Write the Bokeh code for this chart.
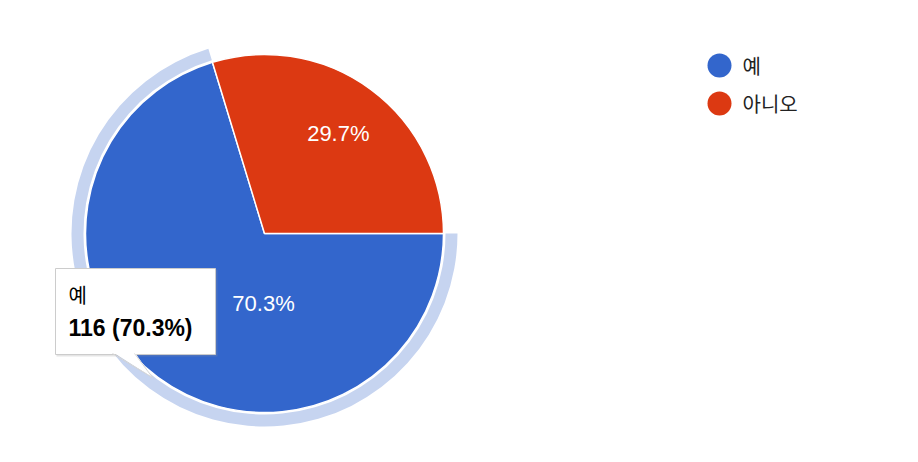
import math
from bokeh.plotting import figure
from bokeh.models import Range1d
from bokeh.core.properties import value
from bokeh.embed import file_html
from bokeh.resources import INLINE

# ---- data ----
categories = ["예", "아니오"]
counts = [116, 49]
slice_colors = ["#3366cc", "#dc3912"]
highlight_index = 0

total = sum(counts)
fracs = [c / total for c in counts]
pct_labels = [f"{f*100:.1f}%" for f in fracs]

# ---- layout (figure pixel units, y up) ----
W, H = 902, 446
def sx(x):  # screen x -> figure x
    return x
def sy(y):  # screen y -> figure y
    return H - y

cx, cy = sx(264), sy(233)
R = 179

p = figure(width=W, height=H, x_range=Range1d(0, W), y_range=Range1d(0, H),
           output_backend="svg", toolbar_location=None, min_border=0)
p.axis.visible = False
p.grid.visible = False
p.outline_line_color = None
p.background_fill_color = "white"

# angles: start at 3 o'clock, clockwise
starts, ends = [], []
acc = 0.0
for f in fracs:
    starts.append(-acc * 2 * math.pi)
    acc += f
    ends.append(-acc * 2 * math.pi)

# highlight halo on hovered slice
p.annular_wedge(x=cx, y=cy, inner_radius=R + 2, outer_radius=R + 14,
                start_angle=starts[highlight_index], end_angle=ends[highlight_index],
                direction="clock", fill_color="#c6d4f0", line_color=None)

p.wedge(x=[cx] * len(counts), y=[cy] * len(counts), radius=R,
        start_angle=starts, end_angle=ends, direction="clock",
        fill_color=slice_colors, line_color="white", line_width=1.5)

# slice labels
lab_x, lab_y = [], []
for i, f in enumerate(fracs):
    if i == highlight_index:
        ang, r = math.radians(269.2), 70
    else:
        ang = (starts[i] + ends[i]) / 2
        r = 124
    lab_x.append(cx + r * math.cos(ang))
    lab_y.append(cy + r * math.sin(ang))
p.text(x=lab_x, y=lab_y, text=pct_labels, text_color="white",
       text_font=value("Liberation Sans"), text_font_size="22px",
       text_align="center", text_baseline="middle")

# tooltip
bx0, bx1, by0, by1 = sx(55), sx(215), sy(354), sy(268)
p.quad(left=bx0 + 1, right=bx1 + 2, bottom=by0 - 2, top=by1 - 1,
       fill_color="#999999", fill_alpha=0.25, line_color=None)
p.quad(left=bx0, right=bx1, bottom=by0, top=by1,
       fill_color="white", line_color="#cccccc", line_width=1)
tail_x = [sx(112), sx(152), sx(134)]
tail_y = [sy(353), sy(377), sy(353)]
p.patch(x=[tail_x[0] + 1, tail_x[1] + 1, tail_x[2] + 1], y=[tail_y[0] - 1, tail_y[1] - 1, tail_y[2] - 1],
        fill_color="#999999", fill_alpha=0.2, line_color=None)
p.patch(x=tail_x, y=[tail_y[0] + 1.5, tail_y[1], tail_y[2] + 1.5],
        fill_color="white", line_color=None)
p.multi_line(xs=[[tail_x[0], tail_x[1]], [tail_x[1], tail_x[2]]],
             ys=[[tail_y[0], tail_y[1]], [tail_y[1], tail_y[2]]],
             line_color="#d8d8d8", line_width=1)
p.text(x=[sx(68)], y=[sy(294)], text=[categories[highlight_index]],
       text_font=value("Noto Sans CJK KR"), text_font_size="20px",
       text_color="#000000", text_baseline="middle")
p.text(x=[sx(68)], y=[sy(327)],
       text=[f"{counts[highlight_index]} ({pct_labels[highlight_index]})"],
       text_font=value("Liberation Sans"), text_font_size="23px", text_font_style="bold",
       text_color="#000000", text_baseline="middle")

# legend
leg_y = [sy(65) - i * 38 for i in range(len(categories))]
p.scatter(x=[sx(719)] * len(categories), y=leg_y, marker="circle", size=24,
          fill_color=slice_colors, line_color=None)
p.text(x=[sx(742)] * len(categories), y=leg_y, text=categories,
       text_font=value("Noto Sans CJK KR"), text_font_size="20px",
       text_color="#222222", text_baseline="middle")

open("out.html", "w").write(file_html(p, INLINE))
